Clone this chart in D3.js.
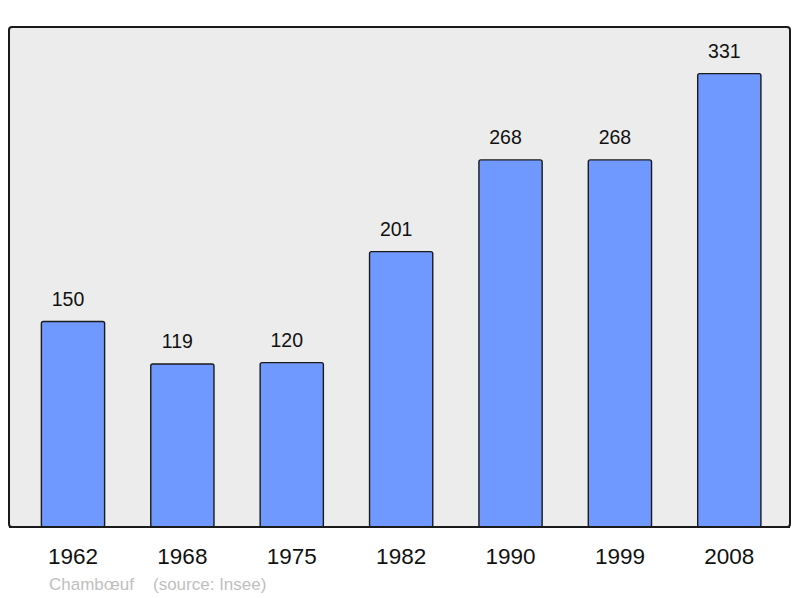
<!DOCTYPE html>
<html><head><meta charset="utf-8">
<script src="https://cdn.jsdelivr.net/npm/d3@7"></script>
<style>body{margin:0;background:#fff;}svg{display:block;font-family:"Liberation Sans",Arial,sans-serif;}</style>
</head><body><svg id="c" width="800" height="598"></svg>
<script>
const years = ["1962","1968","1975","1982","1990","1999","2008"];
const population = [150,119,120,201,268,268,331];
const place = "Chambœuf";
const source = "(source: Insee)";

const svg = d3.select("#c");
const panel = {x0:9, y0:27, x1:790, y1:527};
svg.append("rect").attr("x",panel.x0).attr("y",panel.y0)
  .attr("width",panel.x1-panel.x0).attr("height",panel.y1-panel.y0)
  .attr("rx",3).attr("fill","#ececec").attr("stroke","#1a1a1a").attr("stroke-width",2);

const x = d3.scaleBand().domain(years).range([18.3,784]).padding(0);
const bw = x.bandwidth()*0.578;
const y = d3.scaleLinear().domain([0,365]).range([panel.y1,panel.y0]);

const g = svg.append("g");
g.selectAll("rect.bar").data(years).join("rect").attr("class","bar")
  .attr("x",d=>x(d)+x.bandwidth()/2-bw/2)
  .attr("y",(d,i)=>y(population[i]))
  .attr("width",bw)
  .attr("height",(d,i)=>panel.y1-y(population[i]))
  .attr("rx",2)
  .attr("fill","#7099ff").attr("stroke","#1a1a1a").attr("stroke-width",1.4);

g.selectAll("text.val").data(years).join("text").attr("class","val")
  .attr("x",d=>x(d)+x.bandwidth()/2-5)
  .attr("y",(d,i)=>y(population[i])-16)
  .attr("text-anchor","middle").attr("font-size",19.5).attr("fill","#111")
  .text((d,i)=>population[i]);

svg.append("line").attr("x1",panel.x0).attr("x2",panel.x1).attr("y1",panel.y1).attr("y2",panel.y1)
  .attr("stroke","#1a1a1a").attr("stroke-width",2);

const axis = d3.axisBottom(x).tickSize(0).tickPadding(0);
const ax = svg.append("g").attr("transform",`translate(0,${panel.y1})`).call(axis);
ax.select(".domain").remove();
ax.selectAll("text").attr("font-size",22.5).attr("fill","#111").attr("dy",null).attr("y",37)
  .attr("font-family","Liberation Sans, Arial, sans-serif");

svg.append("text").attr("x",49).attr("y",590).attr("font-size",17).attr("fill","#c0c0c0").text(place);
svg.append("text").attr("x",153).attr("y",590).attr("font-size",17).attr("fill","#c0c0c0").text(source);
</script></body></html>
